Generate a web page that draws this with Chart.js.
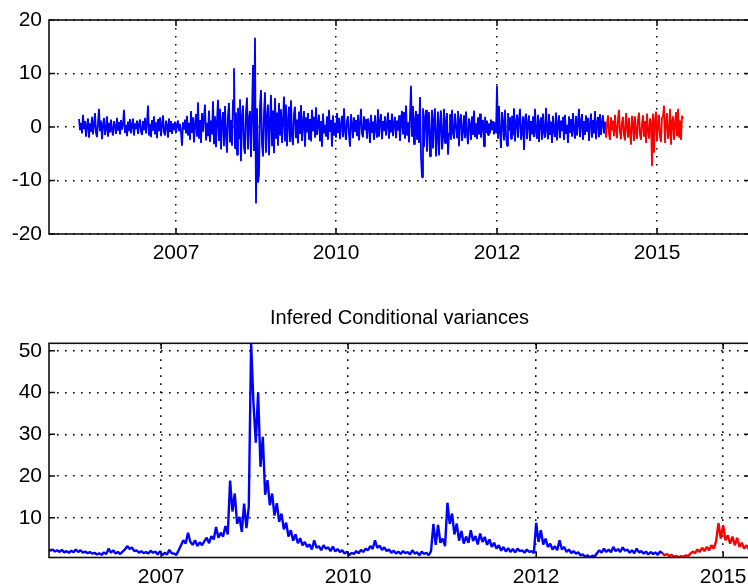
<!DOCTYPE html>
<html><head><meta charset="utf-8">
<script src="https://cdn.jsdelivr.net/npm/chart.js@4.4.1/dist/chart.umd.min.js"></script>
<style>
html,body{margin:0;padding:0;background:#fff;overflow:hidden;width:748px;height:585px;position:relative;}
#c1{position:absolute;left:0;top:0;}
#c2{position:absolute;left:0;top:290px;}
</style></head><body>
<canvas id="c1" width="760" height="270" style="width:760px;height:270px"></canvas>
<canvas id="c2" width="760" height="295" style="width:760px;height:295px"></canvas>
<script>
// ---- axis labels ----
const xTickLabels = ['2007', '2010', '2012', '2015'];
const xTickIndex = [48.5, 128.5, 209, 289];   // period index of each year tick
const yTicksTop = [-20, -10, 0, 10, 20];
const yTicksBottom = [10, 20, 30, 40, 50];
const bottomTitle = 'Infered Conditional variances';

// observed returns (blue), sampled every half period: periods 0..263
const returnsBlue = [
 1.5,-0.6,0.8,-1.2,2.3,-0.4,1.1,-1.8,0.3,1.6,-2.0,0.7,-0.9,1.9,-1.4,0.5,2.6,-1.1,-1.9,0.9,
 3.4,-0.8,1.2,-2.3,0.4,1.7,-1.5,-0.3,2.0,-1.8,0.8,-1.0,1.4,-0.6,-1.6,1.1,0.2,-1.3,1.7,-0.7,
 0.9,-1.4,1.3,-0.5,0.6,3.2,-1.1,0.4,-1.7,1.0,-0.8,1.5,-1.2,0.3,1.6,-1.6,0.7,-0.4,1.2,-1.3,
 0.5,1.4,-0.9,-1.5,1.1,-0.6,1.7,-1.2,0.8,4.0,-1.6,0.6,-1.9,1.3,-0.7,2.0,-1.4,0.9,-2.1,1.5,
 -0.8,1.8,-1.7,0.4,2.2,-1.0,-1.6,1.2,0.3,-2.0,1.6,-0.9,1.1,-1.3,0.7,-0.6,1.0,-1.1,0.5,1.2,
 -0.8,0.6,-1.0,-3.5,0.9,-0.5,1.4,-1.2,2.1,-1.6,0.8,-2.4,3.0,-1.1,1.8,-2.9,0.6,2.4,-1.8,4.6,
 -2.2,1.3,-3.0,2.6,-0.9,1.9,4.2,-2.5,0.8,-1.7,3.1,-2.8,1.2,-1.4,4.8,-3.2,2.0,-3.8,1.1,5.1,
 -2.6,3.4,-4.2,0.9,2.8,-3.6,3.9,-1.5,-4.8,2.2,4.5,-2.9,1.3,-3.5,5.0,11.0,-4.0,2.7,-5.2,3.6,
 -2.1,5.2,-6.4,1.8,4.0,-3.9,-5.0,2.9,5.5,-4.2,1.6,3.0,-5.6,2.4,11.6,-4.5,16.7,-14.3,3.5,-10.4,
 -8.8,4.0,6.9,-3.2,-5.5,2.6,6.5,-4.8,1.9,4.2,-5.3,0.8,6.0,-3.6,3.1,-4.9,5.4,-2.2,2.7,-3.5,
 4.5,-1.6,3.3,-3.0,1.2,5.7,-2.7,4.2,-3.6,0.9,3.8,-2.8,5.0,-1.9,-3.4,2.5,3.8,-2.1,1.4,-3.1,
 2.9,-1.3,4.1,-2.6,0.7,3.0,-3.7,1.8,-1.0,2.6,-2.4,1.5,-2.7,3.2,-0.8,1.9,-2.0,3.7,-1.5,0.6,
 2.3,-2.7,1.1,-3.7,2.5,-1.2,0.4,-1.8,2.0,-2.4,3.2,-0.9,1.3,-3.7,2.2,-1.6,0.8,-2.0,2.6,-1.1,
 1.7,-2.3,0.5,2.1,-1.9,3.5,-0.7,-2.4,1.2,2.0,-1.4,-3.7,2.4,0.6,-2.1,1.8,-0.9,1.3,-1.7,2.3,
 -2.5,0.7,3.4,-1.2,-1.9,2.0,-0.6,1.5,-2.2,1.6,0.3,-3.0,2.3,-1.1,1.0,-2.4,2.2,-0.5,-2.0,3.3,
 -1.8,0.9,2.4,-2.3,1.1,-0.8,2.0,-1.6,0.4,2.7,-2.2,1.3,-1.0,2.5,-1.7,0.6,1.9,-2.1,1.2,-0.7,
 2.2,-2.6,1.0,3.0,-1.4,2.8,-2.2,4.0,-1.6,0.9,-2.9,2.1,7.7,-1.8,3.9,-3.2,1.2,3.0,-2.4,2.4,
 -3.0,5.6,-5.5,-9.4,3.5,-3.8,1.7,3.2,-4.6,0.9,2.8,-5.5,-2.1,3.2,-4.0,1.4,3.5,-5.5,-1.8,2.9,
 -5.3,0.8,3.1,-4.2,-2.0,3.4,-3.0,1.1,2.6,-5.2,-1.2,2.4,-2.4,3.2,-1.0,-2.2,2.5,0.6,-2.0,3.0,
 -3.6,1.4,2.4,-2.6,-0.8,2.2,-2.1,2.9,-1.3,-3.2,1.6,0.5,-2.4,2.0,-1.5,3.1,-1.9,0.7,-2.3,1.8,
 -1.4,2.5,-2.0,0.6,1.3,-3.6,1.9,-1.1,1.2,-1.5,0.7,-1.2,1.4,-0.6,1.1,-1.4,0.9,-1.1,7.7,-2.2,
 3.9,-1.0,-3.9,2.8,0.9,-2.5,3.2,-1.3,-3.5,2.6,-0.7,1.8,-2.2,2.1,-1.6,3.5,-2.7,0.8,2.3,-2.0,
 1.4,3.4,-2.4,-0.9,2.0,-4.3,1.5,2.5,-2.3,0.6,2.2,-2.6,1.1,-1.4,2.0,-1.9,3.4,-0.8,-2.2,2.3,
 -2.8,0.9,1.8,-2.4,2.5,-1.1,-2.0,3.6,-0.6,-2.3,2.4,-1.5,1.0,-3.0,2.1,-0.7,-1.9,2.7,-2.5,0.5,
 2.2,-2.1,1.2,-0.8,1.9,-2.4,2.3,-1.3,0.4,-3.0,2.0,-1.1,1.5,-1.8,2.6,-0.6,-2.2,2.1,-1.6,0.9,
 3.4,-1.9,0.8,2.4,-2.4,1.1,-1.5,2.2,-0.9,1.7,-2.6,0.6,2.5,-2.0,1.3,-1.2,3.0,-2.3,0.7,1.9,
 -1.9,2.4,-1.5,0.8,2.2,-1.2,1.0
];
// forecast-period returns (red), sampled every half period: periods 263..302
const returnsRed = [
 1.0,-2.0,0.6,2.2,-1.3,-2.4,1.8,-0.7,1.2,-1.7,2.3,-0.5,-2.1,1.5,3.2,-1.0,-2.3,0.9,1.9,-1.6,
 -2.5,2.6,0.4,-2.0,1.7,-1.1,-3.3,2.1,0.8,-2.6,2.0,-0.9,-2.2,1.4,2.7,-1.5,-2.4,0.7,2.2,-1.8,
 1.1,-3.0,2.5,-0.6,-2.2,1.6,0.9,-7.3,2.5,-4.8,1.3,2.9,-2.6,0.5,2.3,-1.9,-2.8,1.7,2.0,4.0,
 -3.0,0.8,2.6,-2.2,-1.1,3.4,-3.3,1.0,2.0,-2.4,0.6,2.8,-1.7,3.4,-2.0,1.2,-2.4,2.1,1.5
];
// inferred conditional variances (blue), one per period: periods 0..263
const varianceBlue = [
 2.6,2.1,2.4,1.9,2.2,1.8,2.3,1.7,2.0,1.6,
 2.1,1.7,2.4,1.8,2.2,1.6,1.9,1.5,1.8,1.4,
 1.6,1.2,1.5,1.1,1.7,1.3,2.6,1.6,2.2,1.4,
 1.8,1.3,1.9,2.4,3.2,2.5,2.9,2.0,2.2,1.6,
 2.0,1.5,1.8,1.4,2.1,1.6,1.9,1.2,2.0,1.0,
 1.6,1.2,2.3,1.5,1.4,1.1,2.2,3.4,4.6,3.8,
 6.4,4.2,3.5,4.6,3.2,4.1,3.4,4.4,5.2,3.9,
 5.6,4.8,7.8,5.2,6.4,5.5,8.0,6.0,18.9,11.5,
 15.8,8.5,10.2,6.6,13.4,7.5,12.6,51.8,37.5,28.0,
 40.0,22.2,29.4,15.5,19.0,13.0,15.8,10.5,13.5,9.0,
 11.0,7.2,8.8,5.5,7.0,4.5,6.0,3.9,5.1,3.4,
 4.2,3.0,3.6,2.4,4.6,2.8,3.2,2.2,3.4,2.6,
 2.9,2.0,3.1,1.9,2.5,1.8,2.2,1.4,1.9,1.0,
 1.6,1.3,2.0,1.5,2.3,1.8,2.6,2.2,3.2,2.5,
 4.6,2.8,3.3,2.3,2.9,2.0,2.4,1.6,2.1,1.4,
 1.9,1.3,2.0,1.5,1.8,1.2,2.2,1.4,1.7,1.0,
 1.9,1.3,1.6,1.0,2.0,8.5,3.5,8.3,4.0,5.0,
 3.2,13.6,8.5,11.0,6.0,8.6,4.5,6.8,3.8,5.5,
 4.0,7.0,4.4,5.6,3.6,6.2,4.2,5.4,3.5,4.8,
 3.0,4.0,2.6,3.4,2.1,3.0,1.9,2.7,1.8,2.5,
 1.7,2.6,2.0,2.2,1.6,2.4,1.8,2.0,1.5,8.8,
 4.2,7.0,3.6,5.0,3.0,3.8,2.4,3.2,2.2,4.6,
 2.4,3.0,1.8,2.4,1.5,2.0,1.4,1.7,1.0,1.2,
 0.6,1.0,0.5,0.9,0.7,1.5,2.2,1.6,2.6,1.8,
 2.4,1.7,3.0,2.0,2.5,1.8,2.9,2.1,2.4,1.6,
 2.2,1.5,2.6,1.7,2.0,1.4,1.9,1.2,1.8,1.3,
 1.7,1.1,1.9,1.5
];
// forecast-period variances (red), one per period: periods 263..301
const varianceRed = [
 1.5,1.0,1.3,0.8,1.1,0.6,0.9,0.5,0.8,0.6,
 1.0,0.8,1.4,1.9,1.5,2.4,1.8,2.8,2.0,3.0,
 2.2,3.4,2.6,4.4,8.7,5.0,8.2,4.6,5.8,3.8,
 5.5,3.4,5.2,3.0,4.0,2.6,3.4,2.4,2.9
];

const redStart = varianceBlue.length - 1;   // period where the forecast segment begins
const toPts = (arr, start, step) => arr.map((v, i) => ({x: start + i * step, y: v}));

Chart.defaults.font.family = "'Liberation Sans', Arial, Helvetica, sans-serif";
Chart.defaults.color = '#000';

const matlabBox = {
  id: 'matlabBox',
  afterDatasetsDraw(chart) {
    const {ctx, chartArea: a, scales} = chart;
    ctx.save();
    ctx.strokeStyle = '#111';
    ctx.lineWidth = 1.6;
    ctx.setLineDash([]);
    ctx.strokeRect(a.left, a.top, a.right - a.left, a.bottom - a.top);
    const L = 6;
    ctx.beginPath();
    scales.x.ticks.forEach(t => {
      const p = scales.x.getPixelForValue(t.value);
      ctx.moveTo(p, a.bottom); ctx.lineTo(p, a.bottom - L);
      ctx.moveTo(p, a.top); ctx.lineTo(p, a.top + L);
    });
    scales.y.ticks.forEach(t => {
      const p = scales.y.getPixelForValue(t.value);
      ctx.moveTo(a.left, p); ctx.lineTo(a.left + L, p);
      ctx.moveTo(a.right, p); ctx.lineTo(a.right - L, p);
    });
    ctx.stroke();
    ctx.restore();
  }
};

function makeChart(id, blue, red, opt) {
  const grid = {color: '#000', lineWidth: 1.5, drawTicks: false};
  const border = {display: false, dash: [1.6, 6.4]};
  const scales = {
    x: {
      type: 'linear', min: opt.xmin, max: opt.xmax,
      grid, border,
      afterBuildTicks: s => { s.ticks = xTickIndex.map(v => ({value: v})); },
      afterFit: s => { s.height = opt.xh; },
      ticks: {autoSkip: false, maxRotation: 0, padding: 7, font: {size: 21},
        callback: (v, i) => xTickLabels[i]}
    },
    y: {
      type: 'linear', min: opt.ymin, max: opt.ymax,
      grid, border,
      afterBuildTicks: s => { s.ticks = opt.yticks.map(v => ({value: v})); },
      afterFit: s => { s.width = 49; },
      ticks: {padding: 7, font: {size: 21}, callback: v => String(v)}
    }
  };
  if (opt.title) {
    scales.x2 = {
      type: 'linear', position: 'top', min: opt.xmin, max: opt.xmax,
      grid: {display: false}, border: {display: false},
      ticks: {display: false},
      afterFit: s => { s.height = opt.titleH; },
      title: {display: true, text: opt.title, color: '#000',
        font: {size: 20, weight: 'normal'}, padding: {top: 16, bottom: 0}}
    };
  }
  const ds = (arr, start, color) => ({
    data: toPts(arr, start, opt.step), borderColor: color, backgroundColor: color, fill: false,
    borderWidth: opt.lw, borderJoinStyle: 'bevel', pointRadius: 0, tension: 0
  });
  return new Chart(document.getElementById(id), {
    type: 'line',
    data: {datasets: [ds(blue, 0, '#0000ff'), ds(red, redStart, '#ff0000')]},
    options: {
      responsive: false,
      animation: false,
      events: [],
      layout: {padding: {left: 0, right: 10, top: opt.padTop, bottom: 0}},
      plugins: {legend: {display: false}, tooltip: {enabled: false}, title: {display: false}},
      scales
    },
    plugins: [matlabBox]
  });
}

makeChart('c1', returnsBlue, returnsRed, {
  xmin: -15, xmax: 335.5, ymin: -20, ymax: 20, yticks: yTicksTop, padTop: 20, xh: 36,
  lw: 1.8, step: 0.5
});
makeChart('c2', varianceBlue, varianceRed, {
  xmin: 0.5, xmax: 300.5, ymin: 0.47, ymax: 51.8, yticks: yTicksBottom, padTop: 0, xh: 27.5,
  title: bottomTitle, titleH: 53.3, lw: 2.4, step: 1
});
</script>
</body></html>
